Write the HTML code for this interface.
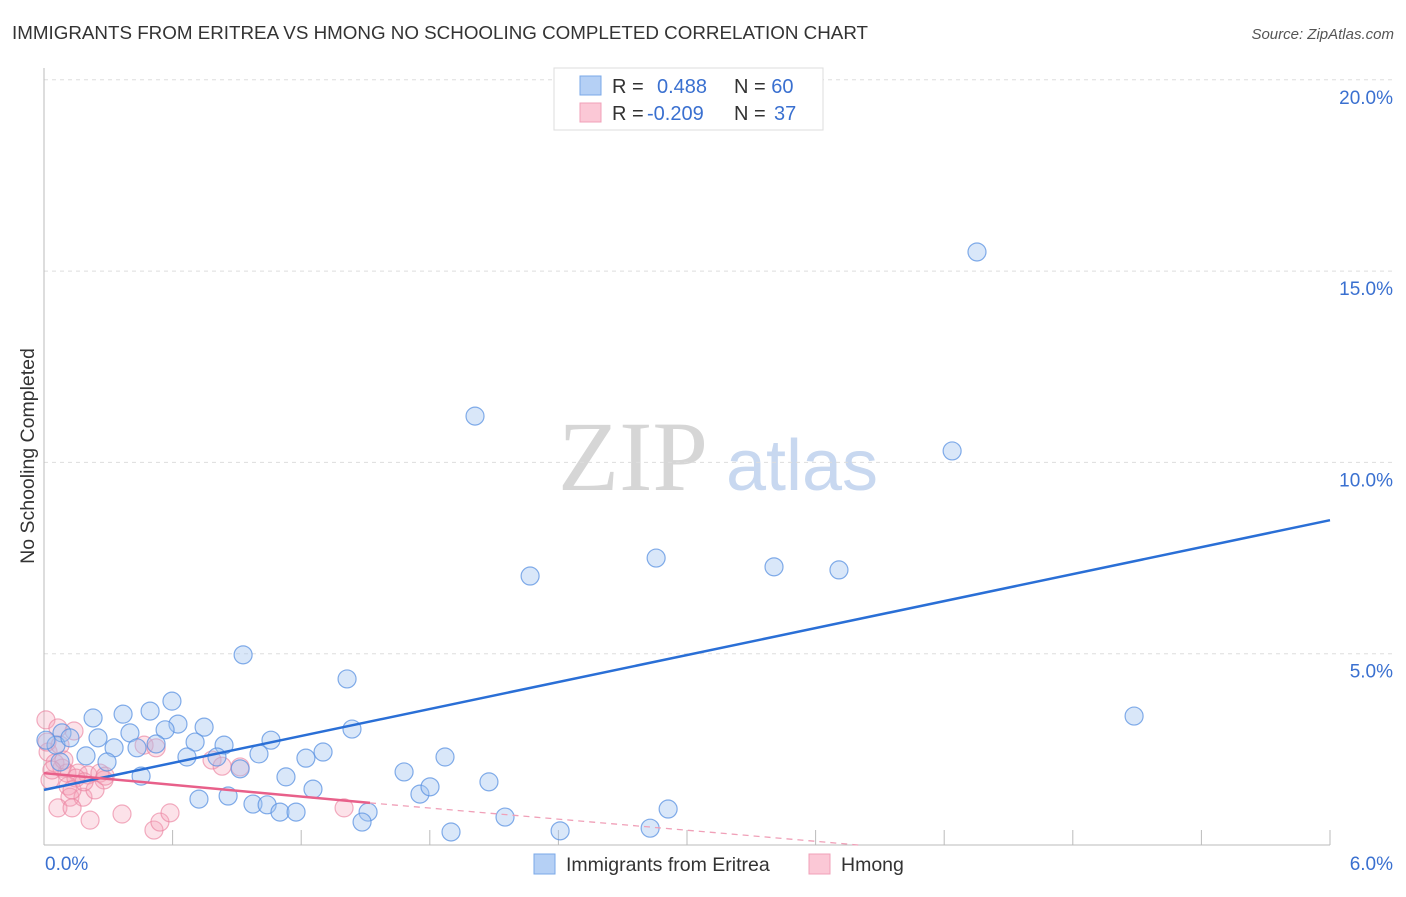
<!DOCTYPE html>
<html><head><meta charset="utf-8"><style>
body{margin:0;background:#fff;font-family:"Liberation Sans",sans-serif;}
</style></head><body>
<svg id="chart" width="1406" height="892" xmlns="http://www.w3.org/2000/svg" font-family="Liberation Sans, sans-serif">
<text x="12" y="39" font-size="18.8" fill="#333">IMMIGRANTS FROM ERITREA VS HMONG NO SCHOOLING COMPLETED CORRELATION CHART</text>
<text x="1394" y="39" font-size="15" fill="#555" font-style="italic" text-anchor="end">Source: ZipAtlas.com</text>
<text transform="translate(34,456) rotate(-90)" font-size="19.5" fill="#333" text-anchor="middle">No Schooling Completed</text>
<g>
<text x="633" y="490" font-size="100" fill="#d6d6d6" style="font-family:'Liberation Serif',serif" text-anchor="middle">ZIP</text>
<text x="802" y="490" font-size="72" fill="#c8d8f0" text-anchor="middle">atlas</text>
</g>
<g id="grid"></g><g id="axes"></g><g id="pts"></g><g id="trend"></g>
<g>
<rect x="554" y="68" width="269" height="62" fill="#fff" stroke="#ddd"/>
<rect x="580" y="76" width="21" height="19" fill="#b5d0f5" stroke="#7aa8e8"/>
<rect x="580" y="103" width="21" height="19" fill="#fbc8d6" stroke="#f0a0b8"/>
<text x="612" y="93" font-size="20" fill="#333">R = <tspan fill="#3a70d0" x="657">0.488</tspan><tspan fill="#333" x="734">N = </tspan><tspan fill="#3a70d0">60</tspan></text>
<text x="612" y="120" font-size="20" fill="#333">R = <tspan fill="#3a70d0" x="647">-0.209</tspan><tspan fill="#333" x="734">N = </tspan><tspan fill="#3a70d0" x="774">37</tspan></text>
</g>
<g>
<rect x="534" y="854" width="21" height="20" fill="#b5d0f5" stroke="#7aa8e8"/>
<text x="566" y="871" font-size="19.5" fill="#333">Immigrants from Eritrea</text>
<rect x="809" y="854" width="21" height="20" fill="#fbc8d6" stroke="#f0a0b8"/>
<text x="841" y="871" font-size="19.5" fill="#333">Hmong</text>
</g>
</svg>
<script>
const yTicks=[5,10,15,20];
const yTickLabels=["5.0%","10.0%","15.0%","20.0%"];
const xEdgeLabels=["0.0%","6.0%"];
const blueX=[4.353,2.011,4.237,2.856,2.268,3.406,3.709,0.929,1.414,5.086,0.597,0.229,0.369,0.495,0.625,0.747,0.565,0.401,0.252,0.084,0.056,1.059,1.437,0.705,0.840,0.523,0.327,0.434,0.196,0.294,0.667,1.222,1.302,1.871,1.003,0.075,1.680,0.453,1.129,2.076,0.915,0.807,1.255,1.754,1.801,0.723,0.859,0.975,1.041,1.101,1.176,2.151,1.512,1.484,1.899,2.408,2.828,2.912,0.009,0.121];
const blueY=[15.50,11.21,10.30,7.50,7.03,7.27,7.19,4.97,4.34,3.37,3.76,3.32,3.42,3.50,3.16,3.08,3.01,2.93,2.80,2.93,2.61,2.74,3.03,2.69,2.61,2.64,2.54,2.54,2.33,2.17,2.30,2.27,2.43,2.30,2.38,2.17,1.91,1.80,1.78,1.65,1.99,2.30,1.46,1.33,1.52,1.20,1.28,1.07,1.05,0.86,0.86,0.73,0.86,0.60,0.34,0.37,0.44,0.94,2.74,2.80];
const pinkX=[0.009,0.065,0.140,0.019,0.051,0.084,0.107,0.159,0.205,0.261,0.149,0.112,0.121,0.182,0.028,0.131,0.280,0.065,0.131,0.215,0.364,0.513,0.541,0.588,0.467,0.523,0.784,0.831,0.915,1.400,0.014,0.075,0.093,0.238,0.285,0.187,0.037];
const pinkY=[3.27,3.06,2.98,2.43,2.14,2.01,1.88,1.88,1.83,1.88,1.75,1.54,1.25,1.25,1.70,1.44,1.70,0.97,0.97,0.65,0.81,0.39,0.60,0.84,2.61,2.54,2.22,2.06,2.04,0.97,2.69,2.61,2.22,1.44,1.80,1.65,1.96];
const blueTrend=[0,1.44,6,8.49];
const pinkTrend=[0,1.88,1.521,1.10,3.8,0];
const NS="http://www.w3.org/2000/svg";
const X=v=>44+v/6*1286, Y=v=>845-v/5*191.3;
function mk(t,a,p){const e=document.createElementNS(NS,t);for(const k in a)e.setAttribute(k,a[k]);document.getElementById(p).appendChild(e);return e;}
yTicks.forEach((t,i)=>{
 const g=mk('line',{x1:44,x2:1394,y1:Y(t),y2:Y(t),stroke:'#ddd','stroke-dasharray':'4,4'},'grid');
 
 
 const l=mk('text',{x:1393,y:Y(t)+24,'font-size':19,fill:'#3a70d0','text-anchor':'end'},'axes');l.textContent=yTickLabels[i];
 
 
});
const ax=mk('line',{x1:44,x2:44,y1:68,y2:845,stroke:'#bbb'},'axes');


const bx=mk('line',{x1:44,x2:1330,y1:845,y2:845,stroke:'#bbb'},'axes');


for(let i=1;i<=10;i++){const tk=mk('line',{x1:X(i*0.6),x2:X(i*0.6),y1:830,y2:845,stroke:'#bbb'},'axes');
 
 }
const xl0=mk('text',{x:45,y:870,'font-size':19,fill:'#3a70d0'},'axes');xl0.textContent=xEdgeLabels[0];


const xl1=mk('text',{x:1393,y:870,'font-size':19,fill:'#3a70d0','text-anchor':'end'},'axes');xl1.textContent=xEdgeLabels[1];


pinkX.forEach((x,i)=>{const c=mk('circle',{cx:X(x),cy:Y(pinkY[i]),r:9,fill:'rgba(245,165,188,0.32)',stroke:'rgba(235,130,160,0.65)','stroke-width':1.2},'pts');
 
 });
blueX.forEach((x,i)=>{const c=mk('circle',{cx:X(x),cy:Y(blueY[i]),r:9,fill:'rgba(160,196,240,0.4)',stroke:'rgba(90,145,225,0.75)','stroke-width':1.2},'pts');
 
 });
const bt=mk('line',{x1:X(blueTrend[0]),y1:Y(blueTrend[1]),x2:X(blueTrend[2]),y2:Y(blueTrend[3]),stroke:'#2a6fd6','stroke-width':2.5},'trend');


const pt=mk('line',{x1:X(pinkTrend[0]),y1:Y(pinkTrend[1]),x2:X(pinkTrend[2]),y2:Y(pinkTrend[3]),stroke:'#e8608a','stroke-width':2.5},'trend');


const pd=mk('line',{x1:X(pinkTrend[2]),y1:Y(pinkTrend[3]),x2:X(pinkTrend[4]),y2:Y(pinkTrend[5]),stroke:'#f0a0b8','stroke-width':1.3,'stroke-dasharray':'6,5'},'trend');


</script>
</body></html>
